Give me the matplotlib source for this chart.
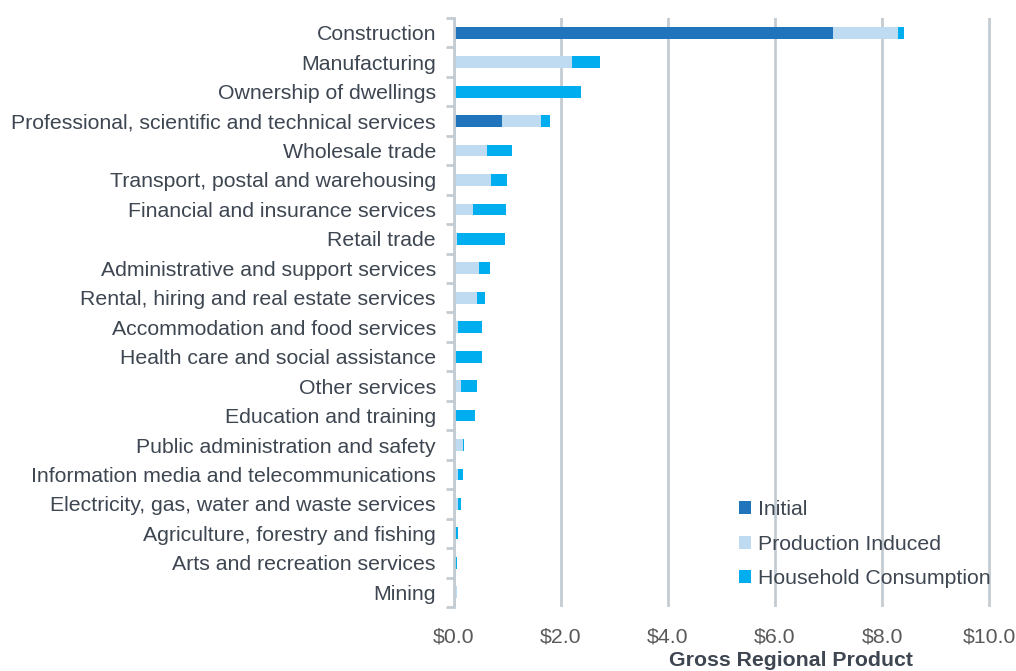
import matplotlib
matplotlib.use("Agg")
import matplotlib.pyplot as plt
import numpy as np

categories = [
    "Construction", "Manufacturing", "Ownership of dwellings",
    "Professional, scientific and technical services", "Wholesale trade",
    "Transport, postal and warehousing", "Financial and insurance services",
    "Retail trade", "Administrative and support services",
    "Rental, hiring and real estate services", "Accommodation and food services",
    "Health care and social assistance", "Other services", "Education and training",
    "Public administration and safety", "Information media and telecommunications",
    "Electricity, gas, water and waste services", "Agriculture, forestry and fishing",
    "Arts and recreation services", "Mining",
]
initial = [7.08, 0, 0, 0.90, 0, 0, 0, 0, 0, 0, 0, 0, 0, 0, 0, 0, 0, 0, 0, 0]
production_induced = [1.21, 2.20, 0, 0.72, 0.62, 0.69, 0.36, 0.05, 0.46, 0.43,
                      0.07, 0.0, 0.14, 0.0, 0.16, 0.08, 0.07, 0.01, 0.0, 0.05]
household = [0.13, 0.53, 2.38, 0.17, 0.46, 0.30, 0.62, 0.90, 0.21, 0.15,
             0.45, 0.52, 0.29, 0.39, 0.03, 0.09, 0.07, 0.06, 0.06, 0.0]
xticks = [0, 2, 4, 6, 8, 10]
xticklabels = ["$0.0", "$2.0", "$4.0", "$6.0", "$8.0", "$10.0"]

plt.rcParams['font.family'] = ['Liberation Sans', 'DejaVu Sans']
FS = 15.3
TXT = "#3D4651"

fig = plt.figure(figsize=(10.16, 6.71), dpi=100)
# x=0 at px 454, x=10 at px 989; extend to 10.1 so last gridline is not clipped
px_per_unit = (989 - 454) / 10.0
right_px = 454 + px_per_unit * 10.1
ax = fig.add_axes([454 / 1016, 1 - 607 / 671, (right_px - 454) / 1016, (607 - 18) / 671])

y = np.arange(len(categories))
ini = np.array(initial)
pi = np.array(production_induced)
hh = np.array(household)
h = 0.4
c_ini, c_pi, c_hh = "#1F74BC", "#BFDBF2", "#00AEEF"
ax.barh(y, ini, height=h, color=c_ini, label="Initial", zorder=3)
ax.barh(y, pi, left=ini, height=h, color=c_pi, label="Production Induced", zorder=3)
ax.barh(y, hh, left=ini + pi, height=h, color=c_hh, label="Household Consumption", zorder=3)

ax.set_ylim(len(categories) - 0.5, -0.5)
ax.set_xlim(0, 10.1)
ax.set_yticks(y)
ax.set_yticklabels(categories, fontsize=FS, color=TXT)
ax.set_yticks(np.arange(-0.5, len(categories), 1), minor=True)
ax.tick_params(axis='y', which='major', length=0, pad=13)
ax.tick_params(axis='y', which='minor', length=6, width=2, color="#C4CCD3")

ax.set_xticks(xticks)
ax.set_xticklabels(xticklabels, fontsize=FS, color="#595959")
ax.tick_params(axis='x', length=0, pad=15)
ax.grid(axis='x', color="#C4CCD3", linewidth=2, zorder=0)

for s in ["top", "right", "bottom"]:
    ax.spines[s].set_visible(False)
ax.spines["left"].set_color("#C4CCD3")
ax.spines["left"].set_linewidth(2)
ax.spines["left"].set_zorder(4)

ax.set_xlabel("Gross Regional Product", fontsize=FS, fontweight="bold",
              color=TXT, labelpad=2)
ax.xaxis.set_label_coords((791 - 454) / (right_px - 454), -0.075)

leg = ax.legend(loc="lower right", bbox_to_anchor=(1.021, 0.007), frameon=False,
                fontsize=FS, handlelength=0.55, handleheight=0.55,
                handletextpad=0.35, labelspacing=0.72, borderaxespad=0.3)
for t in leg.get_texts():
    t.set_color(TXT)

fig.savefig("out.png", dpi=100)
